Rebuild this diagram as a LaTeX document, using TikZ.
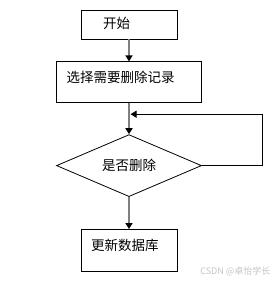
\documentclass[tikz,border=0pt]{standalone}
\usepackage{fontspec}
\setmainfont{Noto Sans CJK SC}
\usetikzlibrary{arrows.meta,positioning,shapes.geometric}
\definecolor{FlowLine}{HTML}{7F7F7F}
\definecolor{MarkGray}{HTML}{C4C4C4}

\begin{document}
\begin{tikzpicture}[x=1pt,y=1pt,node distance=22pt]
    \tikzset{flowbox/.style={draw,line width=0.8pt,align=left,font=\fontsize{13.5}{14}\selectfont,
      inner ysep=0pt,text height=10pt,text depth=3pt},
      flowarr/.style={draw=FlowLine,line width=1.6pt,-{Triangle[black,length=6pt,width=7pt]}}}
    \useasboundingbox (0,0) rectangle (278,-284);
    \node[flowbox,text width=52pt,inner xsep=22pt,minimum height=29pt] (start) at (129,-24.5) {开始};
    \node[flowbox,below=22pt of start,text width=125pt,inner xsep=10pt,minimum height=41pt,text depth=9pt] (sel) {选择需要删除记录};
    \node[draw,diamond,line width=0.8pt,aspect=2.34,minimum width=145pt,minimum height=62pt,inner sep=0pt,
      below=31pt of sel,font=\fontsize{13.5}{14}\selectfont] (chk) {是否删除};
    \node[flowbox,below=32pt of chk,text width=76pt,inner xsep=10pt,minimum height=42pt,text depth=10pt] (upd) {更新数据库};
    \coordinate[below=11pt of sel.south,xshift=1.5pt] (back);
    \draw[flowarr] (start.south)--(sel.north);
    \draw[flowarr] (sel.south)--(chk.north);
    \draw[flowarr] (chk.south)--(upd.north);
    \draw[line width=0.8pt,-{Triangle[length=6pt,width=7pt]}] (chk.east)--++(60,0)|-(back);
    \node[anchor=east,text=MarkGray,font=\fontsize{9}{10}\selectfont] (mark) at (274,-271) {CSDN @卓怡学长};
  \end{tikzpicture}
\end{document}
